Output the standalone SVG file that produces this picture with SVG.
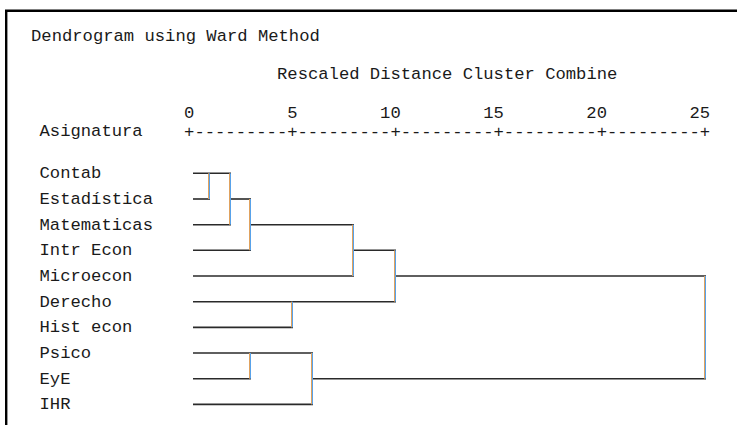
<svg xmlns="http://www.w3.org/2000/svg" width="737" height="425" viewBox="0 0 737 425">
  <style>
    text { font-family: "Liberation Mono", "Courier New", monospace; font-size: 17.2px; fill: #1a1a1a; }
    .h { stroke: #2a2a2a; stroke-width: 1.6; fill: none; }
    .vo { stroke: #e0a25e; stroke-width: 1; fill: none; }
    .vb { stroke: #58a2ea; stroke-width: 1; fill: none; }
    .frame { stroke: #000; stroke-width: 2.4; fill: none; }
  </style>
  <rect width="737" height="425" fill="#fff"/>
  <path class="frame" d="M6.2 425 V10.7 H737"/>

  <g id="header">
    <text x="31" y="41">Dendrogram using Ward Method</text>
    <text x="277" y="79">Rescaled Distance Cluster Combine</text>
    <text x="184.1" y="118" xml:space="preserve">0         5        10        15        20        25</text>
    <text x="39.5" y="136">Asignatura</text>
    <text x="184.1" y="137">+---------+---------+---------+---------+---------+</text>
  </g>

  <g id="leaf-contab"><text x="39.5" y="178.3">Contab</text></g>
  <g id="leaf-estadistica"><text x="39.5" y="204">Estadística</text></g>
  <g id="leaf-matematicas"><text x="39.5" y="229.7">Matematicas</text></g>
  <g id="leaf-intr-econ"><text x="39.5" y="255.3">Intr Econ</text></g>
  <g id="leaf-microecon"><text x="39.5" y="281">Microecon</text></g>
  <g id="leaf-derecho"><text x="39.5" y="306.7">Derecho</text></g>
  <g id="leaf-hist-econ"><text x="39.5" y="332.4">Hist econ</text></g>
  <g id="leaf-psico"><text x="39.5" y="358">Psico</text></g>
  <g id="leaf-eye"><text x="39.5" y="383.7">EyE</text></g>
  <g id="leaf-ihr"><text x="39.5" y="409.4">IHR</text></g>

  <g id="connectors">
    <path class="h" d="M193 173.3 H231"/>
    <path class="h" d="M193 199 H210"/>
    <path class="h" d="M193 224.7 H231"/>
    <path class="h" d="M193 250.3 H251"/>
    <path class="h" d="M193 276 H354"/>
    <path class="h" d="M193 301.7 H396"/>
    <path class="h" d="M193 327.4 H293"/>
    <path class="h" d="M193 353 H313"/>
    <path class="h" d="M193 378.7 H251"/>
    <path class="h" d="M193 404.4 H313"/>
    <path class="h" d="M231 199 H251"/>
    <path class="h" d="M251 224.7 H354"/>
    <path class="h" d="M354 250.3 H396"/>
    <path class="h" d="M396 276 H706"/>
    <path class="h" d="M313 378.7 H706"/>
    <path class="vo" d="M208.5 173.3 V199 M229.5 173.3 V224.7 M249.5 199 V250.3 M352.5 224.7 V276 M394.5 250.3 V301.7 M291.5 301.7 V327.4 M249.5 353 V378.7 M311.5 353 V404.4 M704.5 276 V378.7"/>
    <path class="vb" d="M209.5 173.3 V199 M230.5 173.3 V224.7 M250.5 199 V250.3 M353.5 224.7 V276 M395.5 250.3 V301.7 M292.5 301.7 V327.4 M250.5 353 V378.7 M312.5 353 V404.4 M705.5 276 V378.7"/>
  </g>
</svg>
